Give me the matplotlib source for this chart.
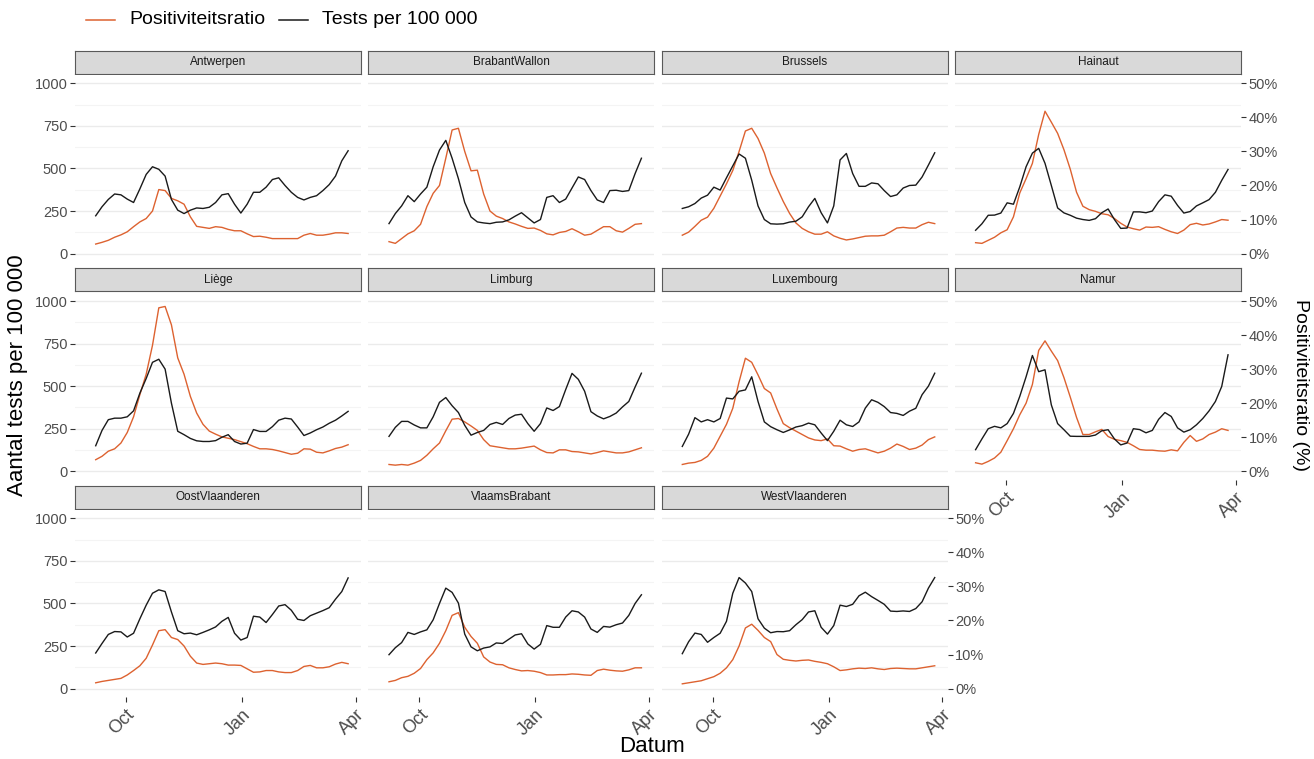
import datetime as dt

import matplotlib
matplotlib.use("Agg")
import matplotlib.pyplot as plt
import matplotlib.dates as mdates
from matplotlib.lines import Line2D

plt.rcParams['font.family'] = ['Liberation Sans', 'DejaVu Sans']

# ---------------------------------------------------------------------------
# Data: 7-day smoothed values sampled every 5 days (7 Sep 2020 - 26 Mar 2021)
# ---------------------------------------------------------------------------
start = dt.date(2020, 9, 7)
dates = [start + dt.timedelta(days=5 * i) for i in range(41)]

provinces = ["Antwerpen", "BrabantWallon", "Brussels", "Hainaut",
             "Liège", "Limburg", "Luxembourg", "Namur",
             "OostVlaanderen", "VlaamsBrabant", "WestVlaanderen"]

# tests per 100 000 inhabitants
tests_antwerpen = [222, 275, 318, 350, 345, 320, 300, 380, 465, 510, 495, 455, 318, 255, 235, 255, 268, 265, 272, 300, 345,
                   352, 290, 238, 290, 360, 360, 390, 435, 445, 400, 360, 330, 315, 330, 340, 370, 405, 455, 545, 604]
tests_brabantwallon = [176, 235, 280, 340, 305, 350, 390, 510, 608, 665, 560, 440, 300, 215, 186, 180, 176, 184, 186, 198, 220,
                       240, 210, 180, 200, 330, 340, 300, 320, 385, 450, 435, 370, 315, 300, 370, 372, 365, 370, 470, 560]
tests_brussels = [265, 275, 294, 326, 343, 390, 373, 445, 515, 585, 560, 431, 280, 200, 175, 173, 175, 185, 190, 216, 275,
                  324, 240, 180, 280, 550, 588, 470, 395, 395, 415, 410, 370, 335, 345, 385, 400, 402, 450, 520, 592]
tests_hainaut = [137, 175, 225, 226, 238, 298, 290, 392, 510, 590, 618, 530, 400, 268, 239, 225, 208, 200, 195, 205, 240,
                 262, 200, 148, 150, 245, 245, 240, 250, 305, 345, 337, 283, 238, 247, 280, 298, 317, 360, 430, 494]
tests_liege = [150, 240, 303, 312, 312, 320, 355, 459, 545, 640, 658, 600, 400, 235, 215, 193, 179, 175, 175, 180, 200,
               215, 175, 160, 165, 245, 234, 234, 262, 300, 312, 307, 260, 210, 225, 244, 260, 282, 300, 325, 352]
tests_limburg = [205, 258, 293, 293, 272, 255, 255, 320, 405, 433, 385, 345, 270, 212, 228, 240, 275, 287, 275, 310, 330,
                 335, 280, 235, 280, 372, 357, 380, 480, 575, 540, 470, 350, 325, 308, 322, 342, 378, 410, 495, 576]
tests_luxembourg = [146, 218, 315, 290, 303, 290, 310, 430, 425, 470, 478, 555, 410, 290, 262, 244, 228, 243, 260, 268, 283,
                    273, 225, 180, 235, 300, 273, 263, 290, 371, 420, 405, 380, 345, 340, 328, 353, 370, 450, 500, 576]
tests_namur = [127, 190, 250, 264, 255, 280, 340, 440, 555, 680, 585, 596, 390, 280, 244, 206, 205, 205, 205, 213, 238,
               244, 190, 155, 166, 250, 245, 226, 240, 305, 345, 322, 255, 230, 244, 273, 310, 355, 410, 498, 684]
tests_oostvlaanderen = [209, 265, 318, 335, 333, 303, 325, 410, 490, 560, 580, 570, 450, 340, 322, 326, 316, 330, 345, 362, 395,
                        418, 325, 285, 300, 425, 420, 388, 435, 485, 493, 460, 407, 400, 428, 443, 458, 475, 525, 570, 650]
tests_vlaamsbrabant = [199, 240, 270, 330, 318, 333, 345, 404, 500, 590, 565, 502, 320, 245, 222, 238, 245, 268, 265, 290, 315,
                       322, 262, 232, 260, 370, 360, 360, 420, 457, 450, 420, 350, 330, 365, 361, 375, 385, 430, 500, 551]
tests_westvlaanderen = [205, 275, 326, 318, 272, 300, 325, 395, 560, 652, 620, 570, 410, 355, 328, 335, 334, 340, 375, 405, 450,
                        457, 360, 320, 370, 490, 482, 495, 545, 566, 540, 518, 495, 455, 453, 456, 453, 470, 510, 590, 652]

# positivity ratio (%)
pos_antwerpen = [2.8, 3.3, 3.9, 4.8, 5.5, 6.4, 7.9, 9.3, 10.3, 12.5, 18.8, 18.5, 16.2, 15.5, 14.5, 10.8, 8.0, 7.7, 7.4, 7.9, 7.7,
                 7.1, 6.7, 6.7, 5.8, 5.0, 5.1, 4.8, 4.4, 4.4, 4.4, 4.4, 4.4, 5.4, 5.9, 5.4, 5.4, 5.7, 6.1, 6.1, 5.9]
pos_brabantwallon = [3.5, 3.0, 4.4, 5.8, 6.7, 8.6, 13.8, 17.7, 20.0, 28.0, 36.3, 36.8, 30.0, 24.3, 24.5, 17.5, 12.5, 11.0, 10.3, 9.3, 8.7,
                     8.0, 7.4, 7.5, 6.8, 5.8, 5.5, 6.2, 6.5, 7.3, 6.4, 5.4, 5.7, 6.8, 7.9, 7.9, 6.7, 6.3, 7.4, 8.6, 8.8]
pos_brussels = [5.4, 6.3, 8.0, 9.8, 10.7, 13.3, 16.9, 20.5, 24.4, 30.0, 36.0, 36.8, 33.8, 29.5, 23.5, 19.3, 15.3, 11.8, 9.0, 7.4, 6.4,
                5.7, 5.7, 6.4, 5.2, 4.5, 4.0, 4.3, 4.7, 5.1, 5.2, 5.2, 5.4, 6.4, 7.5, 7.7, 7.5, 7.5, 8.5, 9.2, 8.8]
pos_hainaut = [3.2, 3.0, 3.9, 4.8, 6.1, 7.0, 10.8, 17.8, 22.0, 26.5, 35.0, 41.8, 38.6, 35.3, 30.5, 24.8, 18.0, 13.9, 12.9, 12.4, 11.7,
               11.4, 10.3, 8.9, 7.8, 7.3, 6.9, 7.8, 7.7, 7.9, 7.1, 6.4, 5.9, 6.9, 8.5, 8.9, 8.4, 8.7, 9.3, 10.0, 9.8]
pos_liege = [3.4, 4.4, 5.9, 6.6, 8.3, 11.4, 16.0, 22.5, 28.5, 37.0, 48.0, 48.4, 43.0, 33.3, 28.5, 22.0, 17.1, 13.8, 11.8, 10.9, 10.1,
             9.7, 9.3, 8.7, 8.1, 7.3, 6.6, 6.6, 6.4, 6.0, 5.5, 5.0, 5.3, 6.6, 6.5, 5.6, 5.4, 6.0, 6.7, 7.1, 7.8]
pos_limburg = [2.0, 1.8, 2.0, 1.8, 2.4, 3.2, 4.7, 6.6, 8.3, 11.9, 15.3, 15.5, 14.5, 13.3, 12.0, 9.3, 7.5, 7.2, 6.9, 6.6, 6.6,
               6.8, 7.1, 7.4, 6.3, 5.5, 5.4, 6.3, 6.3, 5.8, 5.7, 5.4, 5.1, 5.5, 6.0, 5.7, 5.4, 5.4, 5.7, 6.3, 6.9]
pos_luxembourg = [2.0, 2.4, 2.6, 3.2, 4.4, 6.8, 10.3, 13.8, 18.5, 26.3, 33.2, 32.0, 28.3, 24.3, 23.0, 18.3, 14.0, 12.8, 11.8, 10.8, 9.8,
                  9.2, 9.0, 9.5, 7.5, 7.4, 6.6, 5.9, 6.4, 6.6, 6.0, 5.4, 5.9, 6.8, 8.0, 7.3, 6.4, 6.8, 7.7, 9.3, 10.1]
pos_namur = [2.5, 2.1, 2.9, 3.9, 5.6, 9.0, 12.5, 16.6, 20.0, 25.5, 35.5, 38.3, 35.3, 32.5, 27.5, 21.8, 15.8, 10.8, 10.8, 11.6, 12.3,
             10.2, 9.4, 9.0, 8.5, 7.5, 6.4, 6.2, 6.2, 6.0, 5.9, 6.3, 6.0, 8.5, 10.5, 8.8, 9.5, 10.8, 11.5, 12.5, 12.0]
pos_oostvlaanderen = [1.7, 2.1, 2.4, 2.7, 3.0, 4.0, 5.3, 6.7, 8.9, 12.8, 17.0, 17.3, 15.0, 14.4, 12.5, 9.5, 7.5, 7.1, 7.3, 7.5, 7.3,
                      6.9, 6.9, 6.8, 5.8, 4.8, 4.9, 5.3, 5.3, 4.9, 4.7, 4.7, 5.3, 6.5, 6.8, 6.1, 6.1, 6.4, 7.2, 7.7, 7.3]
pos_vlaamsbrabant = [2.0, 2.4, 3.2, 3.6, 4.5, 5.9, 8.5, 10.5, 13.3, 17.0, 21.5, 22.3, 18.0, 15.3, 13.3, 9.3, 7.8, 7.1, 7.0, 6.1, 5.6,
                     5.2, 5.3, 5.1, 4.7, 4.0, 4.0, 4.1, 4.1, 4.3, 4.2, 4.0, 3.9, 5.3, 5.7, 5.4, 5.2, 5.1, 5.5, 6.1, 6.1]
pos_westvlaanderen = [1.4, 1.7, 2.0, 2.3, 2.9, 3.5, 4.5, 6.1, 8.5, 12.5, 17.8, 18.9, 17.1, 15.0, 13.8, 10.0, 8.6, 8.3, 8.1, 8.3, 8.4,
                      8.0, 7.7, 7.3, 6.4, 5.3, 5.5, 5.8, 6.0, 5.9, 6.1, 5.8, 5.6, 5.9, 6.0, 5.9, 5.8, 5.8, 6.1, 6.4, 6.7]

tests = [tests_antwerpen, tests_brabantwallon, tests_brussels, tests_hainaut,
         tests_liege, tests_limburg, tests_luxembourg, tests_namur,
         tests_oostvlaanderen, tests_vlaamsbrabant, tests_westvlaanderen]
positivity = [pos_antwerpen, pos_brabantwallon, pos_brussels, pos_hainaut,
              pos_liege, pos_limburg, pos_luxembourg, pos_namur,
              pos_oostvlaanderen, pos_vlaamsbrabant, pos_westvlaanderen]

left_ticks = [0, 250, 500, 750, 1000]
right_ticks = [0, 10, 20, 30, 40, 50]
x_ticks = [dt.date(2020, 10, 1), dt.date(2021, 1, 1), dt.date(2021, 4, 1)]
x_labels = ["Oct", "Jan", "Apr"]

SCALE = 20  # 1 % positivity == 20 tests per 100 000 on the shared axis

# ---------------------------------------------------------------------------
# Styling
# ---------------------------------------------------------------------------
ORANGE = "#DD6230"
BLACK = "#1A1A1A"
TXT = "#4D4D4D"
W, H = 1314, 759

fig = plt.figure(figsize=(W / 100, H / 100), dpi=100)
fig.patch.set_facecolor("white")


def rect(x, y, w, h):
    return [x / W, 1 - (y + h) / H, w / W, h / H]


col_left = [75 + 293.3 * c for c in range(4)]
row_top = [74.8, 292.5, 509.8]
pw, ph = 286, 187.3
strip_h = 23

x_lo = mdates.date2num(dt.date(2020, 10, 1)) - 40.4
x_hi = mdates.date2num(dt.date(2021, 4, 1)) + 4.2

for i, name in enumerate(provinces):
    r, c = divmod(i, 4)
    x0, y0 = col_left[c], row_top[r]

    # facet strip
    sax = fig.add_axes(rect(x0, y0 - strip_h - 1.3, pw, strip_h))
    sax.set_facecolor("#D9D9D9")
    sax.set_xticks([])
    sax.set_yticks([])
    for sp in sax.spines.values():
        sp.set_color("#595959")
        sp.set_linewidth(0.8)
    sax.text(0.5, 0.5, name, ha="center", va="center", fontsize=8.5,
             color="#1A1A1A", transform=sax.transAxes)

    ax = fig.add_axes(rect(x0, y0, pw, ph))
    ax.set_facecolor("white")
    for sp in ax.spines.values():
        sp.set_visible(False)

    ax.plot(dates, [p * SCALE for p in positivity[i]], color=ORANGE, lw=1.0, zorder=3)
    ax.plot(dates, tests[i], color=BLACK, lw=1.0, zorder=4)

    ax.set_xlim(x_lo, x_hi)
    ax.set_ylim(-50, 1050)
    ax.set_yticks(left_ticks)
    ax.set_yticks([125, 375, 625, 875], minor=True)
    ax.grid(axis="y", which="major", color="#EBEBEB", lw=1.0, zorder=0)
    ax.grid(axis="y", which="minor", color="#F4F4F4", lw=0.8, zorder=0)
    ax.tick_params(axis="y", which="minor", length=0)
    ax.set_xticks([mdates.date2num(d) for d in x_ticks])

    if c == 0:
        ax.tick_params(axis="y", length=3.5, width=0.8, color="#333333",
                       labelsize=10.5, labelcolor=TXT, pad=2)
    else:
        ax.tick_params(axis="y", left=False, labelleft=False)

    bottom = (r == 2) or (r == 1 and c == 3)
    if bottom:
        ax.set_xticklabels(x_labels, rotation=45, ha="right", va="top",
                           rotation_mode="anchor")
        ax.tick_params(axis="x", length=3.5, width=0.8, color="#333333",
                       labelsize=13, labelcolor=TXT, pad=3)
    else:
        ax.tick_params(axis="x", bottom=False, labelbottom=False)

    if c == 3 or i == len(provinces) - 1:
        sec = ax.secondary_yaxis("right", functions=(lambda v: v / SCALE,
                                                     lambda p: p * SCALE))
        sec.set_yticks(right_ticks)
        sec.set_yticklabels([f"{v}%" for v in right_ticks])
        sec.tick_params(axis="y", length=3.5, width=0.8, color="#333333",
                        labelsize=10.5, labelcolor=TXT, pad=2)
        for sp in sec.spines.values():
            sp.set_visible(False)

# axis titles
fig.text(18 / W, 1 - 375 / H, "Aantal tests per 100 000", rotation=90,
         ha="center", va="center", fontsize=16, color="black")
fig.text(1300 / W, 1 - 385 / H, "Positiviteitsratio (%)", rotation=270,
         ha="center", va="center", fontsize=14, color="black")
fig.text(652 / W, 1 - 746 / H, "Datum", ha="center", va="center",
         fontsize=16, color="black")

# legend
ly = 1 - 20 / H
fig.add_artist(Line2D([86 / W, 115 / W], [ly, ly], color=ORANGE, lw=1.1))
fig.text(129 / W, ly, "Positiviteitsratio", ha="left", va="center",
         fontsize=14, color="black")
fig.add_artist(Line2D([279 / W, 308 / W], [ly, ly], color=BLACK, lw=1.1))
fig.text(322 / W, ly, "Tests per 100 000", ha="left", va="center",
         fontsize=14, color="black")

fig.savefig("out.png", dpi=100, facecolor="white")
